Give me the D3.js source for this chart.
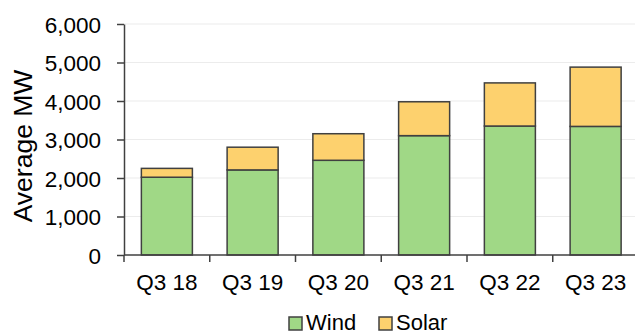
<!DOCTYPE html>
<html>
<head>
<meta charset="utf-8">
<script src="https://cdn.jsdelivr.net/npm/d3@7"></script>
<style>
  html, body { margin: 0; padding: 0; background: #fff; }
  svg { display: block; font-family: "Liberation Sans", Arial, sans-serif; }
</style>
</head>
<body>
<svg id="chart" width="635" height="335"></svg>
<script>
// Quarterly average output, MW
const categories = ["Q3 18", "Q3 19", "Q3 20", "Q3 21", "Q3 22", "Q3 23"];
const windValues = [2020, 2210, 2460, 3100, 3350, 3340];
const solarValues = [230, 590, 690, 880, 1120, 1540];
const yTicks = [0, 1000, 2000, 3000, 4000, 5000, 6000];
const seriesNames = ["Wind", "Solar"];
const seriesColors = ["#a0d886", "#fdd16e"];

const svg = d3.select("#chart");
const plotLeft = 124, plotRight = 638.5, plotTop = 24, plotBottom = 255;
const ink = "#404040";

const x = d3.scaleBand().domain(categories).range([plotLeft, plotRight]).paddingInner(0.405).paddingOuter(0.2025);
const y = d3.scaleLinear().domain([0, 6000]).range([plotBottom, plotTop]);

// horizontal gridlines
svg.append("g").selectAll("line").data(yTicks.filter(d => d > 0)).join("line")
  .attr("x1", plotLeft).attr("x2", 635)
  .attr("y1", d => y(d)).attr("y2", d => y(d))
  .attr("stroke", "#ececec").attr("stroke-width", 1.2);

// stacked bars
const rows = categories.map((c, i) => ({ cat: c, Wind: windValues[i], Solar: solarValues[i] }));
const stacked = d3.stack().keys(seriesNames)(rows);

svg.append("g").selectAll("g").data(stacked).join("g")
  .attr("fill", (d, i) => seriesColors[i])
  .selectAll("rect").data(d => d).join("rect")
  .attr("x", d => x(d.data.cat))
  .attr("width", x.bandwidth())
  .attr("y", d => y(d[1]))
  .attr("height", d => y(d[0]) - y(d[1]))
  .attr("stroke", ink).attr("stroke-width", 1.5);

// y axis
const yAxis = svg.append("g").attr("transform", `translate(${plotLeft},0)`)
  .call(d3.axisLeft(y).tickValues(yTicks).tickFormat(d3.format(",")).tickSize(7).tickSizeOuter(0).tickPadding(16));
yAxis.select(".domain").attr("stroke", ink).attr("stroke-width", 1.5);
yAxis.selectAll(".tick line").attr("stroke", ink).attr("stroke-width", 1.5);
yAxis.selectAll(".tick text").attr("font-size", 22.5).attr("fill", "#000")
  .attr("font-family", "'Liberation Sans', Arial, sans-serif").attr("dy", "0.36em");

// x axis with ticks at category boundaries
const step = x.step();
const boundaries = d3.range(categories.length + 1).map(i => plotLeft + i * step);
svg.append("line").attr("x1", plotLeft).attr("x2", 635).attr("y1", plotBottom).attr("y2", plotBottom)
  .attr("stroke", ink).attr("stroke-width", 1.5);
svg.append("g").selectAll("line").data(boundaries).join("line")
  .attr("x1", d => d).attr("x2", d => d).attr("y1", plotBottom).attr("y2", plotBottom + 7)
  .attr("stroke", ink).attr("stroke-width", 1.5);
svg.append("g").selectAll("text").data(categories).join("text")
  .attr("x", d => x(d) + x.bandwidth() / 2).attr("y", 290)
  .attr("text-anchor", "middle").attr("font-size", 22.5).attr("fill", "#000")
  .text(d => d);

// y axis title
svg.append("text")
  .attr("transform", "translate(32,146) rotate(-90)")
  .attr("text-anchor", "middle").attr("font-size", 26.5).attr("fill", "#000")
  .text("Average MW");

// legend
const legendItems = [{ name: seriesNames[0], color: seriesColors[0], x: 289 }, { name: seriesNames[1], color: seriesColors[1], x: 379 }];
const lg = svg.append("g").selectAll("g").data(legendItems).join("g")
  .attr("transform", d => `translate(${d.x},317)`);
lg.append("rect").attr("width", 13).attr("height", 13).attr("fill", d => d.color)
  .attr("stroke", ink).attr("stroke-width", 1.5);
lg.append("text").attr("x", 17).attr("y", 13).attr("font-size", 22).attr("fill", "#000").text(d => d.name);
</script>
</body>
</html>
